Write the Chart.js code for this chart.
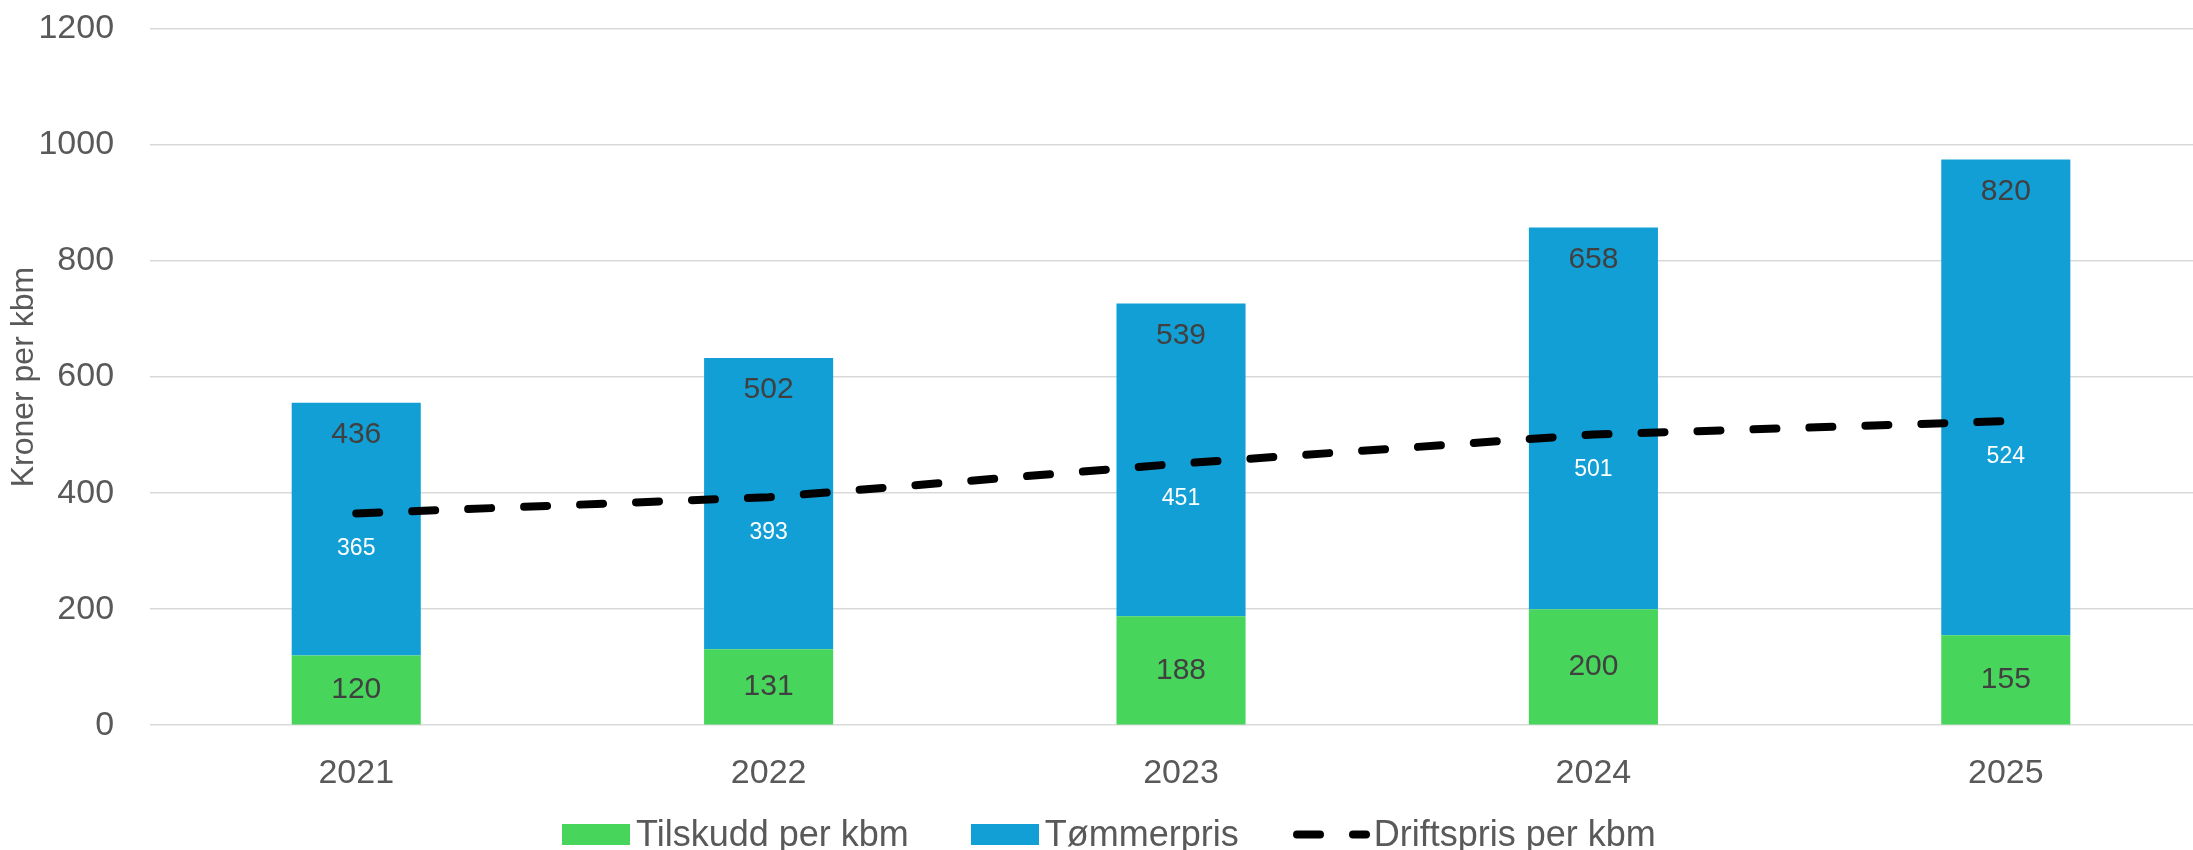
<!DOCTYPE html>
<html>
<head>
<meta charset="utf-8">
<script src="https://cdn.jsdelivr.net/npm/chart.js@4/dist/chart.umd.min.js"></script>
<style>
  html, body { margin: 0; padding: 0; background: #fff; overflow: hidden; }
  #wrap { position: relative; width: 2212px; height: 850px; }
  #legend {
    position: absolute; left: 562px; top: 814px; height: 40px;
    display: flex; align-items: center;
    font-family: 'Liberation Sans', Arial, sans-serif; font-size: 36px; color: #595959;
    white-space: nowrap;
  }
  #legend .item { display: flex; align-items: center; margin-right: 62px; }
  #legend .item:nth-child(2) { margin-right: 54px; }
  #legend .item:last-child { margin-right: 0; }
  #legend .box { width: 68px; height: 21px; margin-right: 6px; }
  #legend svg { margin-right: 4px; }
</style>
</head>
<body>
<div id="wrap"><canvas id="chart"></canvas><div id="legend"></div></div>
<script>
// ── Data ──────────────────────────────────────────────────────────────────────
const years      = ["2021", "2022", "2023", "2024", "2025"];
const tilskudd   = [120, 131, 188, 200, 155];
const tommerpris = [436, 502, 539, 658, 820];
const driftspris = [365, 393, 451, 501, 524];
const yTicks     = [0, 200, 400, 600, 800, 1000, 1200];

const FONT = "'Liberation Sans', Arial, sans-serif";

// ── Value labels (Excel style) ────────────────────────────────────────────────
const valueLabels = {
    id: "valueLabels",
    afterDatasetsDraw(chart) {
        const ctx = chart.ctx;
        ctx.save();
        ctx.textAlign = "center";
        ctx.textBaseline = "middle";
        chart.data.datasets.forEach((ds, i) => {
            const meta = chart.getDatasetMeta(i);
            meta.data.forEach((el, j) => {
                const v = ds.data[j];
                let y;
                if (ds.type === "line") {
                    ctx.font = "23px " + FONT;
                    ctx.fillStyle = "#ffffff";
                    y = el.y + 35;
                } else if (i === 0) {
                    ctx.font = "30px " + FONT;
                    ctx.fillStyle = "#404040";
                    y = (el.y + el.base) / 2;
                } else {
                    ctx.font = "30px " + FONT;
                    ctx.fillStyle = "#404040";
                    y = el.y + 32;
                }
                ctx.fillText(String(v), el.x, y);
            });
        });
        ctx.restore();
    }
};

// ── Chart ─────────────────────────────────────────────────────────────────────
const ctx = document.getElementById("chart").getContext("2d");
const chart = new Chart(ctx, {
    data: {
        labels: years,
        datasets: [
            {
                type: "bar",
                label: "Tilskudd per kbm",
                data: tilskudd,
                backgroundColor: "#47D55B",
                borderWidth: 0,
                stack: "bars",
                order: 1,
                categoryPercentage: 1,
                barPercentage: 0.313
            },
            {
                type: "bar",
                label: "Tømmerpris",
                data: tommerpris,
                backgroundColor: "#119FD6",
                borderWidth: 0,
                stack: "bars",
                order: 1,
                categoryPercentage: 1,
                barPercentage: 0.313
            },
            {
                type: "line",
                label: "Driftspris per kbm",
                data: driftspris,
                borderColor: "#000000",
                backgroundColor: "#000000",
                borderWidth: 8,
                borderDash: [23, 33],
                borderCapStyle: "round",
                pointRadius: 0,
                fill: false,
                tension: 0,
                stack: "line",
                order: 0
            }
        ]
    },
    options: {
        responsive: true,
        maintainAspectRatio: false,
        animation: false,
        layout: { padding: { top: 29, left: 5, right: 0, bottom: 56 } },
        plugins: {
            legend: { display: false },
            tooltip: { enabled: false }
        },
        scales: {
            x: {
                stacked: true,
                grid: { display: true, drawOnChartArea: false, drawTicks: true, tickLength: 28, tickColor: "rgba(0,0,0,0)" },
                border: { display: false },
                ticks: { color: "#595959", font: { family: FONT, size: 34 }, padding: 0 }
            },
            y: {
                stacked: true,
                min: 0,
                max: 1200,
                afterBuildTicks(scale) { scale.ticks = yTicks.map(v => ({ value: v })); },
                grid: { color: "#D9D9D9", lineWidth: 1.5, drawTicks: true, tickLength: 36, tickColor: "rgba(0,0,0,0)" },
                border: { display: false },
                ticks: {
                    color: "#595959",
                    font: { family: FONT, size: 34 },
                    padding: 0,
                    callback: v => String(v)
                },
                title: {
                    display: true,
                    text: "Kroner per kbm",
                    color: "#595959",
                    font: { family: FONT, size: 32 },
                    padding: { top: 0, bottom: -5 }
                }
            }
        }
    },
    plugins: [valueLabels]
});

// ── Legend (Excel-like, built from the datasets) ──────────────────────────────
const legendEl = document.getElementById("legend");
chart.data.datasets.forEach(ds => {
    const item = document.createElement("div");
    item.className = "item";
    if (ds.type === "line") {
        item.innerHTML =
            '<svg width="77" height="21"><line x1="4" y1="10.5" x2="73" y2="10.5" stroke="' + ds.borderColor +
            '" stroke-width="8" stroke-linecap="round" stroke-dasharray="23 33"/></svg>';
    } else {
        item.innerHTML = '<div class="box" style="background:' + ds.backgroundColor + '"></div>';
    }
    const span = document.createElement("span");
    span.textContent = ds.label;
    item.appendChild(span);
    legendEl.appendChild(item);
});
</script>
</body>
</html>
